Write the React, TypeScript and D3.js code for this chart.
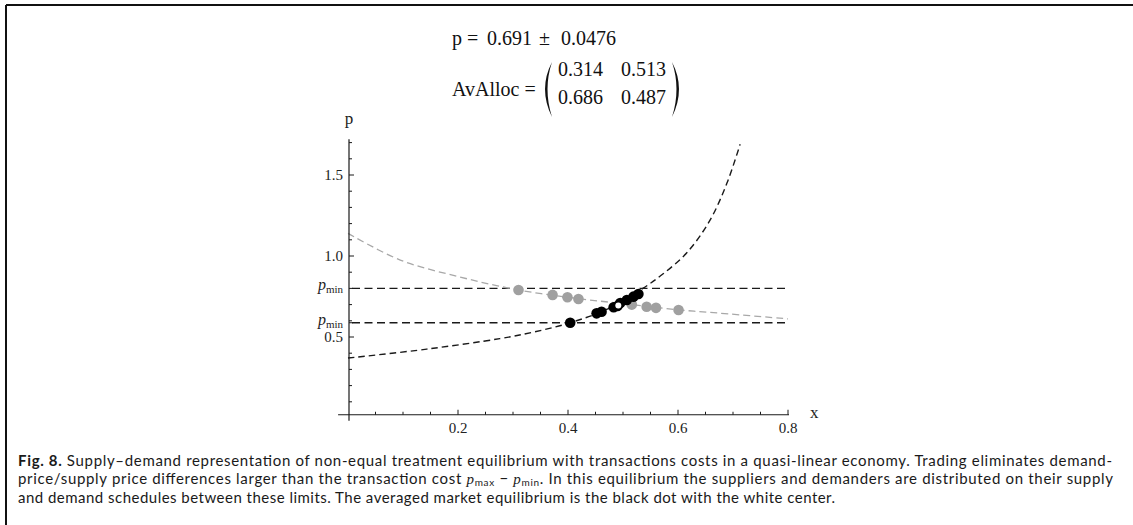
import React from "react";
import * as d3 from "d3";

// ---------- data ----------
const xMajorTicks = [0.2, 0.4, 0.6, 0.8];
const xMinorTicks = [0.05, 0.1, 0.15, 0.25, 0.3, 0.35, 0.45, 0.5, 0.55, 0.65, 0.7, 0.75];
const yMajorTicks = [0.5, 1.0, 1.5];
const yMinorTicks = [0.1, 0.2, 0.3, 0.4, 0.6, 0.7, 0.9, 1.1, 1.2, 1.3, 1.4, 1.6, 1.7];
const pMinUpper = 0.8;
const pMinLower = 0.588;

// demand schedule (grey dashed)
const demandX = [0, 0.095, 0.204, 0.31, 0.419, 0.516, 0.6, 0.676, 0.8];
const demandP = [1.14, 0.975, 0.87, 0.79, 0.737, 0.7, 0.668, 0.647, 0.612];

// supply schedule (black dashed)
const supplyX = [0, 0.143, 0.276, 0.337, 0.404, 0.47, 0.536, 0.573, 0.616, 0.658, 0.689, 0.713];
const supplyP = [0.37, 0.425, 0.49, 0.53, 0.588, 0.67, 0.8, 0.89, 1.02, 1.22, 1.45, 1.69];

// demanders (grey dots)
const greyDotX = [0.31, 0.372, 0.399, 0.419, 0.516, 0.543, 0.56, 0.601];
const greyDotP = [0.79, 0.76, 0.745, 0.735, 0.7, 0.687, 0.68, 0.667];

// suppliers (black dots)
const blackDotX = [0.404, 0.452, 0.461, 0.483, 0.495, 0.507, 0.519, 0.528];
const blackDotP = [0.588, 0.646, 0.656, 0.684, 0.71, 0.728, 0.749, 0.765];

// averaged equilibrium
const eqX = 0.49;
const eqP = 0.691;

const titleP = "0.691";
const titlePm = "0.0476";
const allocRow1 = ["0.314", "0.513"];
const allocRow2 = ["0.686", "0.487"];

// ---------- layout ----------
const W = 1133;
const H = 525;
const serif = "'Liberation Serif', 'Times New Roman', serif";
const sans = "Lato, 'Open Sans', sans-serif";

export default function App() {
  const x = d3.scaleLinear().domain([0, 0.8]).range([348, 788]);
  const y = d3.scaleLinear().domain([0, 1.5]).range([418, 175]);
  const axisY = y(0.02);
  const axisX = x(0) + 1;

  const line = d3
    .line<[number, number]>()
    .x((d) => x(d[0]))
    .y((d) => y(d[1]))
    .curve(d3.curveCatmullRom.alpha(0.5));

  const demandPts = demandX.map((v, i) => [v, demandP[i]] as [number, number]);
  const supplyPts = supplyX.map((v, i) => [v, supplyP[i]] as [number, number]);

  const axisColor = "#1a1a1a";

  return (
    <svg
      width={W}
      height={H}
      style={{ position: "absolute", left: 0, top: 0, background: "#fff" }}
    >
      {/* frame */}
      <line x1={6} y1={5} x2={W} y2={5} stroke="#111" strokeWidth={2} />
      <line x1={6} y1={5} x2={6} y2={H} stroke="#111" strokeWidth={2} />

      {/* title */}
      <g fontFamily={serif} fontSize={20} fill="#111">
        <text x={452} y={45}>p =</text>
        <text x={487} y={45}>{titleP}</text>
        <text x={539} y={45}>±</text>
        <text x={561} y={45}>{titlePm}</text>
        <text x={452} y={96}>AvAlloc =</text>
        <text x={558} y={76}>{allocRow1[0]}</text>
        <text x={621} y={76}>{allocRow1[1]}</text>
        <text x={558} y={104}>{allocRow2[0]}</text>
        <text x={621} y={104}>{allocRow2[1]}</text>
      </g>
      <path d="M552 62 Q538 89 552 117 Q543 89 552 62 Z" fill="#111" />
      <path d="M672 62 Q686 89 672 117 Q681 89 672 62 Z" fill="#111" />

      {/* dashed limits */}
      {[pMinUpper, pMinLower].map((p, i) => (
        <line
          key={i}
          x1={x(0) + 4}
          x2={x(0.8)}
          y1={y(p)}
          y2={y(p)}
          stroke="#1a1a1a"
          strokeWidth={1.4}
          strokeDasharray="8 4.5"
        />
      ))}

      {/* demand curve */}
      <path
        d={line(demandPts) || ""}
        fill="none"
        stroke="#a8a8a8"
        strokeWidth={1.3}
        strokeDasharray="7 4"
      />
      {/* supply curve */}
      <path
        d={line(supplyPts) || ""}
        fill="none"
        stroke="#1a1a1a"
        strokeWidth={1.4}
        strokeDasharray="6.5 4"
      />

      {/* axes */}
      <line x1={x(-0.018)} x2={x(0.8) + 1} y1={axisY} y2={axisY} stroke={axisColor} strokeWidth={1.2} />
      <line x1={axisX} x2={axisX} y1={axisY + 6} y2={y(1.72)} stroke={axisColor} strokeWidth={1.2} />
      {xMinorTicks.map((t) => (
        <line key={"xm" + t} x1={x(t)} x2={x(t)} y1={axisY} y2={axisY - 3} stroke={axisColor} strokeWidth={1} />
      ))}
      {xMajorTicks.map((t) => (
        <line key={"xM" + t} x1={x(t)} x2={x(t)} y1={axisY} y2={axisY - 5} stroke={axisColor} strokeWidth={1} />
      ))}
      {yMinorTicks.map((t) => (
        <line key={"ym" + t} x1={axisX} x2={axisX + 3} y1={y(t)} y2={y(t)} stroke={axisColor} strokeWidth={1} />
      ))}
      {yMajorTicks.map((t) => (
        <line key={"yM" + t} x1={axisX} x2={axisX + 5} y1={y(t)} y2={y(t)} stroke={axisColor} strokeWidth={1} />
      ))}
      {[pMinUpper, pMinLower].map((t) => (
        <line key={"yp" + t} x1={axisX} x2={axisX + 4} y1={y(t)} y2={y(t)} stroke={axisColor} strokeWidth={1} />
      ))}

      {/* tick labels */}
      <g fontFamily={serif} fontSize={15} fill="#222">
        {xMajorTicks.map((t) => (
          <text key={"xl" + t} x={x(t)} y={433} textAnchor="middle">
            {d3.format(".1f")(t)}
          </text>
        ))}
        {yMajorTicks.map((t) => (
          <text key={"yl" + t} x={343} y={y(t) + 5} textAnchor="end">
            {d3.format(".1f")(t)}
          </text>
        ))}
        {[pMinUpper, pMinLower].map((t) => (
          <text key={"pl" + t} x={343} y={y(t) + 2} textAnchor="end">
            <tspan fontStyle="italic" fontSize={16}>p</tspan>
            <tspan fontSize={11} dy={3}>min</tspan>
          </text>
        ))}
        <text x={810} y={418} fontSize={17}>x</text>
        <text x={349} y={124} fontSize={17} textAnchor="middle">p</text>
      </g>

      {/* dots */}
      {greyDotX.map((v, i) => (
        <circle key={"g" + i} cx={x(v)} cy={y(greyDotP[i])} r={5.3} fill="#a0a0a0" />
      ))}
      {blackDotX.map((v, i) => (
        <circle key={"b" + i} cx={x(v)} cy={y(blackDotP[i])} r={5.3} fill="#000" />
      ))}
      <circle cx={x(eqX)} cy={y(eqP)} r={5.3} fill="#000" />
      <circle cx={x(eqX) + 0.8} cy={y(eqP) - 0.5} r={3} fill="#fff" />

      {/* caption */}
      <g fontFamily={sans} fontSize={15} fill="#1a1a1a">
        <text x={18} y={466} textLength={1094} lengthAdjust="spacing">
          <tspan fontWeight="bold">Fig. 8.</tspan>
          <tspan>{"  Supply–demand representation of non-equal treatment equilibrium with transactions costs in a quasi-linear economy. Trading eliminates demand-"}</tspan>
        </text>
        <text x={18} y={484} textLength={1095} lengthAdjust="spacing">
          <tspan>price/supply price differences larger than the transaction cost </tspan>
          <tspan fontFamily={serif} fontStyle="italic">p</tspan>
          <tspan fontSize={10} dy={2}>max</tspan>
          <tspan dy={-2}>{" − "}</tspan>
          <tspan fontFamily={serif} fontStyle="italic">p</tspan>
          <tspan fontSize={10} dy={2}>min</tspan>
          <tspan dy={-2}>. In this equilibrium the suppliers and demanders are distributed on their supply</tspan>
        </text>
        <text x={18} y={503} textLength={817} lengthAdjust="spacing">
          and demand schedules between these limits. The averaged market equilibrium is the black dot with the white center.
        </text>
      </g>
    </svg>
  );
}
